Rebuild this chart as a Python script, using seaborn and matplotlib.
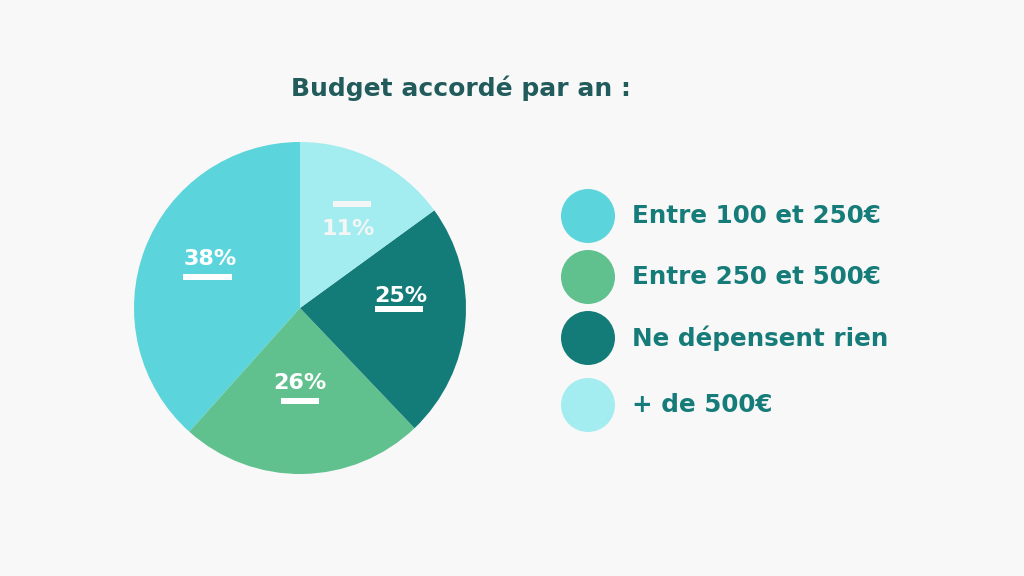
import matplotlib
matplotlib.use("Agg")
import matplotlib.pyplot as plt
import matplotlib.patches as mpatches
import seaborn as sns

# ---- data ----
categories = ["Entre 100 et 250€", "Entre 250 et 500€", "Ne dépensent rien", "+ de 500€"]
shares = [38.4, 23.75, 22.9, 15.0]          # slice sizes as drawn in the picture
pct_labels = ["38%", "26%", "25%", "11%"]    # labels printed on slices
colors = ["#5bd5db", "#60c18e", "#147c78", "#a3ecf0"]
title = "Budget accordé par an :"

sns.set_theme(style="white")
plt.rcParams['font.family'] = ['DejaVu Sans']

W, H = 1024, 576
fig = plt.figure(figsize=(W / 100, H / 100), dpi=100, facecolor="#f8f8f8")
ax = fig.add_axes([0, 0, 1, 1])
ax.set_facecolor("#f8f8f8")

def Y(y):  # pixel-from-top to data
    return H - y

cx, cy, r = 300, 308, 166
ax.pie(shares, colors=colors, startangle=90, counterclock=True,
       center=(cx, Y(cy)), radius=r, frame=True,
       wedgeprops=dict(linewidth=0))
ax.set_xlim(0, W)
ax.set_ylim(0, H)
ax.set_aspect("equal")
ax.axis("off")

# slice labels: (x, y, bar_y, bar_x0, bar_x1, color)
label_pos = [
    (210, 259, 277, 183, 232, "white"),
    (300, 383, 401, 281, 319, "white"),
    (401, 296, 309, 375, 423, "white"),
    (348, 229, 204, 333, 371, "#f4f6f6"),
]
for lab, (x, y, by, bx0, bx1, c) in zip(pct_labels, label_pos):
    ax.text(x, Y(y), lab, ha="center", va="center", color=c,
            fontsize=16, fontweight="bold")
    ax.add_patch(mpatches.Rectangle((bx0, Y(by) - 2.75), bx1 - bx0, 5.5,
                                    facecolor=c, edgecolor="none"))

# title
ax.text(461, Y(88), title, ha="center", va="center", color="#225b5b",
        fontsize=18, fontweight="bold")

# legend
leg_y = [216, 277, 338, 405]
for cat, col, y in zip(categories, colors, leg_y):
    ax.add_patch(mpatches.Circle((588, Y(y)), 27, facecolor=col, edgecolor="none"))
    ax.text(632, Y(y), cat, ha="left", va="center", color="#167c79",
            fontsize=17.7, fontweight="bold")

fig.savefig("out.png", dpi=100, facecolor=fig.get_facecolor())
